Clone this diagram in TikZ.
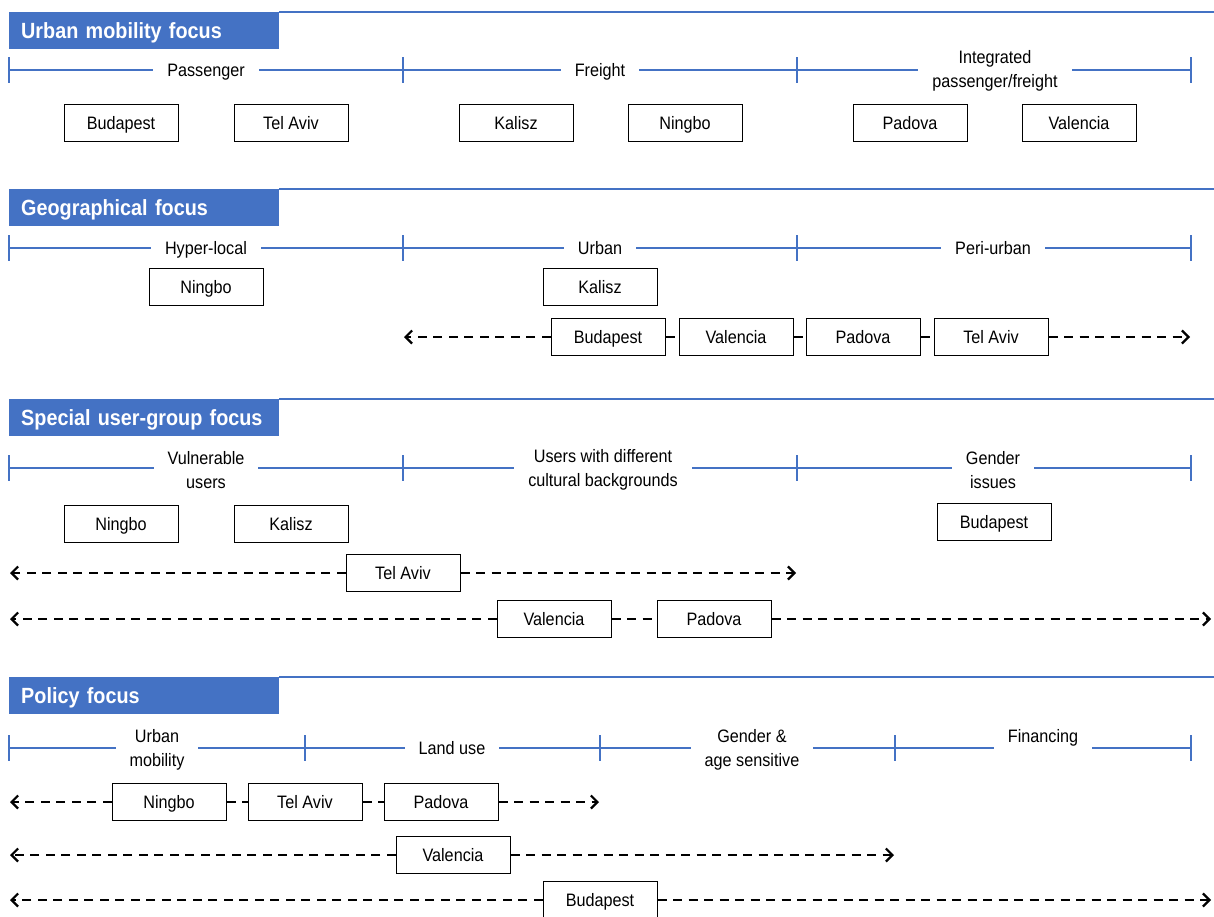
\documentclass[tikz,border=0pt]{standalone}
\usepackage{fontspec}
\setmainfont{Liberation Sans}[FakeStretch=0.9]
\usetikzlibrary{arrows.meta}
\definecolor{hdrblue}{HTML}{4472C4}

\tikzset{
  hdr/.style={fill=hdrblue, text=white, anchor=north west,
    font=\bfseries\fontsize{22}{24}\selectfont,
    minimum height=37pt, text width=246pt, text height=16pt, text depth=1pt,
    inner xsep=12pt, inner ysep=0pt, align=left},
  topline/.style={draw=hdrblue, line width=2pt},
  tline/.style={draw=hdrblue, line width=2pt},
  tlabel/.style={fill=white, inner xsep=14pt, inner ysep=3pt, align=center,
    font=\fontsize{18}{24}\selectfont},
  tlabel1/.style={tlabel, text height=13pt, text depth=0pt},
  city/.style={draw=black, line width=1pt, fill=white, minimum width=114pt,
    minimum height=37pt, inner sep=0pt, text height=13pt, text depth=0pt,
    font=\fontsize{18}{20}\selectfont},
  span/.style={draw=black, line width=2pt, dash pattern=on 9pt off 6.5pt},
  spanarrow/.style={span, -{Straight Barb[length=6.5pt,width=13pt,line width=2.2pt]}},
}

\begin{document}
\begin{tikzpicture}[x=1pt, y=-1pt]
\useasboundingbox (0,0) rectangle (1214,916);
\coordinate (edge) at (1214,0);

% ---------- Urban mobility focus ----------
\node[hdr] (h1) at (9,12) {Urban mobility focus};
\draw[topline] (h1.north east) -- (h1.north east -| edge);
\draw[tline] (9,70) -- (1191,70);
\foreach \x in {9,403,797,1191} \draw[tline] (\x,57) -- (\x,83);
\node[tlabel1] (l1a) at (206,70) {Passenger};
\node[tlabel1] (l1b) at (600,70) {Freight};
\node[tlabel] (l1c) at (995,71) {Integrated\\passenger/freight};
\node[city] (a1) at (121,123) {Budapest};
\node[city] (a2) at (291,123) {Tel Aviv};
\node[city] (a3) at (516,123) {Kalisz};
\node[city] (a4) at (685,123) {Ningbo};
\node[city] (a5) at (910,123) {Padova};
\node[city] (a6) at (1079,123) {Valencia};

% ---------- Geographical focus ----------
\node[hdr] (h2) at (9,189) {Geographical focus};
\draw[topline] (h2.north east) -- (h2.north east -| edge);
\draw[tline] (9,248) -- (1191,248);
\foreach \x in {9,403,797,1191} \draw[tline] (\x,235) -- (\x,261);
\node[tlabel1] (l2a) at (206,248) {Hyper-local};
\node[tlabel1] (l2b) at (600,248) {Urban};
\node[tlabel1] (l2c) at (993,248) {Peri-urban};
\node[city] (b1) at (206,287) {Ningbo};
\node[city] (b2) at (600,287) {Kalisz};
\node[city] (b3) at (608,337) {Budapest};
\node[city] (b4) at (736,337) {Valencia};
\node[city] (b5) at (863,337) {Padova};
\node[city] (b6) at (991,337) {Tel Aviv};
\coordinate (b3end) at (404,337);
\coordinate (b6end) at (1190,337);
\draw[spanarrow] (b3.west) -- (b3end);
\draw[span] (b3.east) -- (b4.west);
\draw[span] (b4.east) -- (b5.west);
\draw[span] (b5.east) -- (b6.west);
\draw[spanarrow] (b6.east) -- (b6end);

% ---------- Special user-group focus ----------
\node[hdr] (h3) at (9,399) {Special user-group focus};
\draw[topline] (h3.north east) -- (h3.north east -| edge);
\draw[tline] (9,468) -- (1191,468);
\foreach \x in {9,403,797,1191} \draw[tline] (\x,455) -- (\x,481);
\node[tlabel] (l3a) at (206,470) {Vulnerable\\users};
\node[tlabel] (l3b) at (603,470) {Users with different\\cultural backgrounds};
\node[tlabel] (l3c) at (993,470) {Gender\\issues};
\node[city] (c1) at (121,524) {Ningbo};
\node[city] (c2) at (291,524) {Kalisz};
\node[city] (c3) at (994,522) {Budapest};
\node[city] (c4) at (403,573) {Tel Aviv};
\coordinate (c4l) at (10,573);
\coordinate (c4r) at (796,573);
\draw[spanarrow] (c4.west) -- (c4l);
\draw[spanarrow] (c4.east) -- (c4r);
\node[city] (c5) at (554,619) {Valencia};
\node[city] (c6) at (714,619) {Padova};
\coordinate (c5l) at (10,619);
\coordinate (c6r) at (1211,619);
\draw[spanarrow] (c5.west) -- (c5l);
\draw[span] (c5.east) -- (c6.west);
\draw[spanarrow] (c6.east) -- (c6r);

% ---------- Policy focus ----------
\node[hdr] (h4) at (9,677) {Policy focus};
\draw[topline] (h4.north east) -- (h4.north east -| edge);
\draw[tline] (9,748) -- (1191,748);
\foreach \x in {9,305,600,895,1191} \draw[tline] (\x,735) -- (\x,761);
\node[tlabel] (l4a) at (157,750) {Urban\\mobility};
\node[tlabel1] (l4b) at (452,748) {Land use};
\node[tlabel] (l4c) at (752,750) {Gender \&\\age sensitive};
\node[tlabel1, inner ysep=8pt] (l4d) at (1043,736) {Financing};
\node[city] (d1) at (169,802) {Ningbo};
\node[city] (d2) at (305,802) {Tel Aviv};
\node[city] (d3) at (441,802) {Padova};
\coordinate (d1l) at (10,802);
\coordinate (d3r) at (599,802);
\draw[spanarrow] (d1.west) -- (d1l);
\draw[span] (d1.east) -- (d2.west);
\draw[span] (d2.east) -- (d3.west);
\draw[spanarrow] (d3.east) -- (d3r);
\node[city] (d4) at (453,855) {Valencia};
\coordinate (d4l) at (10,855);
\coordinate (d4r) at (894,855);
\draw[spanarrow] (d4.west) -- (d4l);
\draw[spanarrow] (d4.east) -- (d4r);
\node[city] (d5) at (600,900) {Budapest};
\coordinate (d5l) at (10,900);
\coordinate (d5r) at (1211,900);
\draw[spanarrow] (d5.west) -- (d5l);
\draw[spanarrow] (d5.east) -- (d5r);
\end{tikzpicture}
\end{document}
